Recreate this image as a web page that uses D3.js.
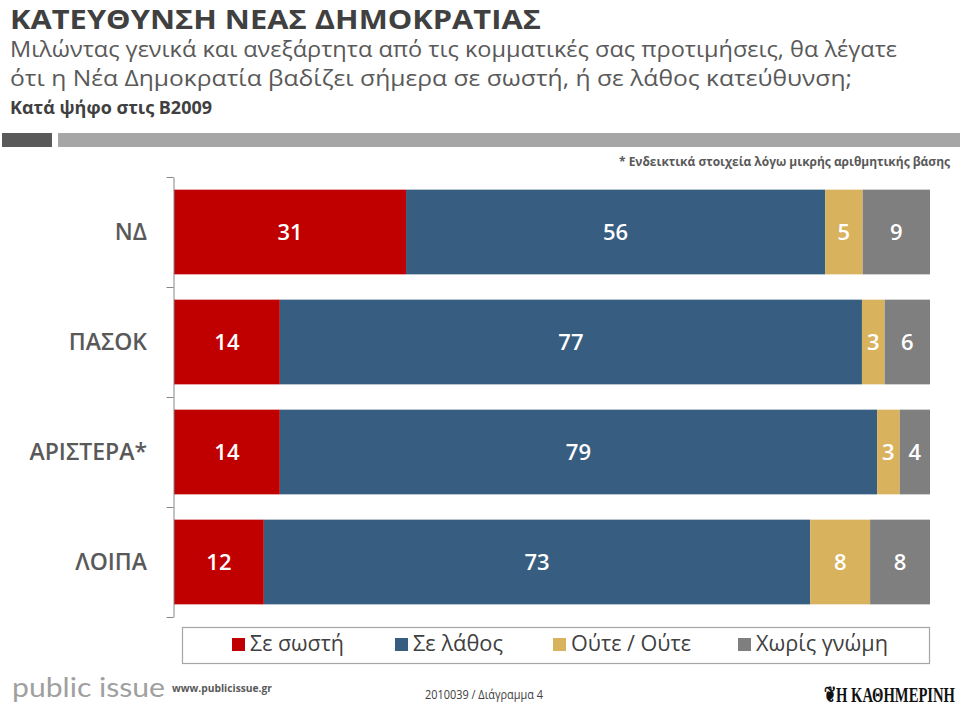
<!DOCTYPE html>
<html>
<head>
<meta charset="utf-8">
<script src="https://cdn.jsdelivr.net/npm/d3@7"></script>
<style>
  html, body { margin: 0; padding: 0; background: #fff; }
  svg { display: block; font-family: "Open Sans", "Noto Sans", sans-serif; }
</style>
</head>
<body>
<svg id="chart" width="960" height="705"></svg>
<script>
// ---- data ----
const categories = ["ΝΔ", "ΠΑΣΟΚ", "ΑΡΙΣΤΕΡΑ*", "ΛΟΙΠΑ"];
const seriesNames = ["Σε σωστή", "Σε λάθος", "Ούτε / Ούτε", "Χωρίς γνώμη"];
const seriesKeys = ["right", "wrong", "neither", "noopinion"];
const rightValues = [31, 14, 14, 12];
const wrongValues = [56, 77, 79, 73];
const neitherValues = [5, 3, 3, 8];
const noOpinionValues = [9, 6, 4, 8];
const seriesColors = ["#C00000", "#375D81", "#D9B25E", "#7F7F7F"];

const titleText = "ΚΑΤΕΥΘΥΝΣΗ ΝΕΑΣ ΔΗΜΟΚΡΑΤΙΑΣ";
const subtitleLines = [
  "Μιλώντας γενικά και ανεξάρτητα από τις κομματικές σας προτιμήσεις, θα λέγατε",
  "ότι η Νέα Δημοκρατία βαδίζει σήμερα σε σωστή, ή σε λάθος κατεύθυνση;"
];
const subheadText = "Κατά ψήφο στις Β2009";
const noteText = "* Ενδεικτικά στοιχεία λόγω μικρής αριθμητικής βάσης";

// ---- build table ----
const table = categories.map((c, i) => ({
  cat: c,
  right: rightValues[i],
  wrong: wrongValues[i],
  neither: neitherValues[i],
  noopinion: noOpinionValues[i]
}));

const svg = d3.select("#chart");

// ---- header ----
svg.append("text").attr("x", 10).attr("y", 29)
  .attr("font-size", 27).attr("font-weight", 700).attr("fill", "#404040")
  .attr("textLength", 531).attr("lengthAdjust", "spacingAndGlyphs")
  .text(titleText);

const subW = [887, 842];
subtitleLines.forEach((t, i) => {
  svg.append("text").attr("x", 10).attr("y", 57 + i * 29)
    .attr("font-size", 22).attr("fill", "#595959")
    .attr("textLength", subW[i]).attr("lengthAdjust", "spacingAndGlyphs")
    .text(t);
});

svg.append("text").attr("x", 10).attr("y", 114)
  .attr("font-size", 17.5).attr("font-weight", 700).attr("fill", "#404040")
  .attr("textLength", 202).attr("lengthAdjust", "spacingAndGlyphs")
  .text(subheadText);

svg.append("rect").attr("x", 2).attr("y", 133).attr("width", 50).attr("height", 14).attr("fill", "#595959");
svg.append("rect").attr("x", 58).attr("y", 133).attr("width", 902).attr("height", 14).attr("fill", "#A6A6A6");

svg.append("text").attr("x", 950).attr("y", 166).attr("text-anchor", "end")
  .attr("font-size", 13).attr("font-weight", 700).attr("fill", "#595959")
  .attr("textLength", 331).attr("lengthAdjust", "spacingAndGlyphs")
  .text(noteText);

// ---- scales ----
const x = d3.scaleLinear().domain([0, 1]).range([174, 930]);
const y = d3.scaleBand().domain(categories).range([177, 617])
  .paddingInner(0.23).paddingOuter(0.115);

const stack = d3.stack().keys(seriesKeys).offset(d3.stackOffsetExpand);
const stacked = stack(table);

// ---- bars ----
const layers = svg.append("g").selectAll("g.layer")
  .data(stacked).enter().append("g")
  .attr("fill", (d, i) => seriesColors[i]);

layers.selectAll("rect").data(d => d).enter().append("rect")
  .attr("x", d => x(d[0]))
  .attr("y", d => y(d.data.cat))
  .attr("width", d => x(d[1]) - x(d[0]))
  .attr("height", y.bandwidth());

// value labels
stacked.forEach((layer) => {
  svg.append("g").selectAll("text").data(layer).enter().append("text")
    .attr("x", d => (x(d[0]) + x(d[1])) / 2)
    .attr("y", d => y(d.data.cat) + y.bandwidth() / 2)
    .attr("dy", "0.36em")
    .attr("text-anchor", "middle")
    .attr("font-size", 22).attr("font-weight", 600).attr("fill", "#fff")
    .text(d => d.data[layer.key]);
});

// ---- axis ----
const edge = d3.scaleLinear().domain([0, categories.length]).range([177, 617]);
const axisG = svg.append("g").attr("transform", "translate(173.5,0)")
  .call(d3.axisLeft(edge).tickValues(d3.range(categories.length + 1))
    .tickFormat("").tickSize(7).tickSizeOuter(0));
axisG.select(".domain").attr("stroke", "#868686");
axisG.selectAll(".tick line").attr("stroke", "#868686");

// category labels
svg.append("g").selectAll("text").data(categories).enter().append("text")
  .attr("x", 147)
  .attr("y", d => y(d) + y.bandwidth() / 2)
  .attr("dy", "0.36em")
  .attr("text-anchor", "end")
  .attr("font-size", 23).attr("font-weight", 600).attr("fill", "#595959")
  .text(d => d);

// ---- legend ----
svg.append("rect").attr("x", 182.5).attr("y", 627.5).attr("width", 747).attr("height", 36)
  .attr("fill", "#fff").attr("stroke", "#A6A6A6").attr("stroke-width", 1.2);

const legendX = [232, 395, 553, 738];
const legendW = [94, 90, 120, 132];
const leg = svg.append("g").selectAll("g").data(seriesNames).enter().append("g")
  .attr("transform", (d, i) => `translate(${legendX[i]},638)`);
leg.append("rect").attr("width", 13).attr("height", 13)
  .attr("fill", (d, i) => seriesColors[i]);
leg.append("text").attr("x", 18).attr("y", 13)
  .attr("font-size", 21).attr("fill", "#404040")
  .attr("textLength", (d, i) => legendW[i]).attr("lengthAdjust", "spacingAndGlyphs")
  .text(d => d);

// ---- footer ----
svg.append("text").attr("x", 12).attr("y", 697)
  .attr("font-size", 27).attr("fill", "#A0A0A0").attr("font-family", "Lato, 'Open Sans', sans-serif")
  .attr("textLength", 153).attr("lengthAdjust", "spacingAndGlyphs")
  .text("public issue");
svg.append("text").attr("x", 172).attr("y", 692)
  .attr("font-size", 11).attr("font-weight", 700).attr("fill", "#595959")
  .attr("textLength", 100).attr("lengthAdjust", "spacingAndGlyphs")
  .text("www.publicissue.gr");
svg.append("text").attr("x", 425).attr("y", 699)
  .attr("font-size", 12).attr("fill", "#404040")
  .attr("textLength", 118).attr("lengthAdjust", "spacingAndGlyphs")
  .text("2010039 / Διάγραμμα 4");
svg.append("text").attr("x", 824).attr("y", 702)
  .attr("font-size", 22).attr("font-weight", 700).attr("fill", "#111")
  .attr("font-family", "'Liberation Serif', serif")
  .attr("textLength", 131).attr("lengthAdjust", "spacingAndGlyphs")
  .text("❦Η ΚΑΘΗΜΕΡΙΝΗ");
</script>
</body>
</html>
